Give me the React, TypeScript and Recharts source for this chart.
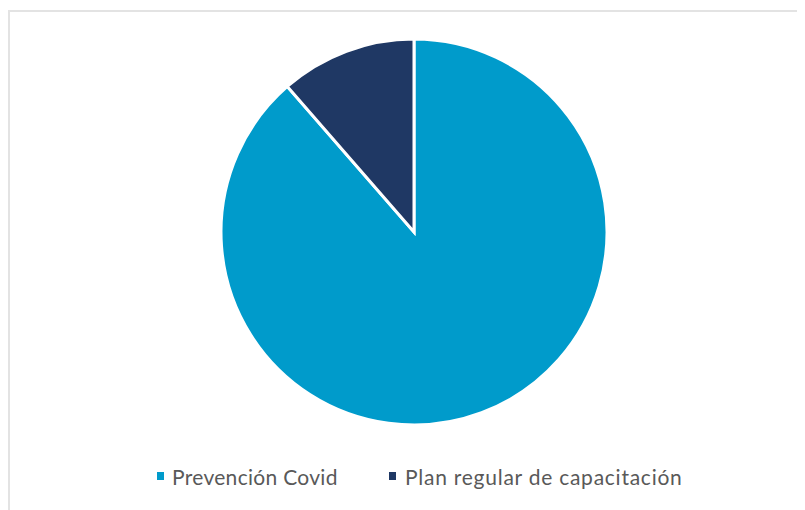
import React from "react";
import { PieChart, Pie, Cell, Legend } from "recharts";

const categories = ["Prevención Covid", "Plan regular de capacitación"];
const values = [88.6, 11.4];
const colors = ["#009BCB", "#1F3864"];

const data = categories.map((name, i) => ({ name, value: values[i] }));

const legendIconX = [149, 381];
const legendTextX = [164, 397];
const legendSpacing = [0.3, 0.75];

const renderLegend = () => (
  <div style={{ position: "relative", width: 797, height: 24, fontFamily: "Lato, sans-serif", fontSize: 21, lineHeight: "23px", color: "#595959" }}>
    {categories.map((c, i) => (
      <React.Fragment key={c}>
        <span style={{ position: "absolute", left: legendIconX[i], top: 7, width: 7, height: 8, background: colors[i] }} />
        <span style={{ position: "absolute", left: legendTextX[i], top: 0, whiteSpace: "nowrap", letterSpacing: legendSpacing[i] }}>{c}</span>
      </React.Fragment>
    ))}
  </div>
);

export default function App() {
  return (
    <div style={{ position: "relative", width: 797, height: 502 }}>
      <div style={{ position: "absolute", left: 0, top: 2, width: 797, height: 500, borderTop: "2px solid #e3e3e3", borderLeft: "2px solid #e3e3e3", boxSizing: "border-box" }} />
      <PieChart width={797} height={502} style={{ position: "absolute", left: 0, top: 0 }}>
        <Pie
          data={data}
          dataKey="value"
          nameKey="name"
          cx={401}
          cy={219}
          outerRadius={193}
          startAngle={90}
          endAngle={-270}
          stroke="#ffffff"
          strokeWidth={3}
          isAnimationActive={false}
        >
          {data.map((d, i) => (
            <Cell key={d.name} fill={colors[i]} />
          ))}
        </Pie>
        <Legend content={renderLegend} wrapperStyle={{ position: "absolute", left: 0, top: 457, width: 797 }} />
      </PieChart>
    </div>
  );
}
